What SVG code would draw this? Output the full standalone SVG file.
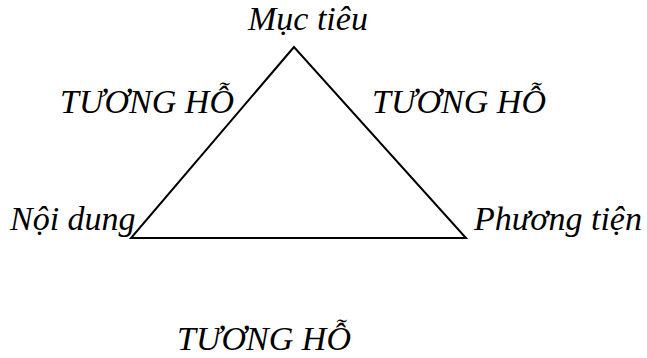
<svg xmlns="http://www.w3.org/2000/svg" width="647" height="358" viewBox="0 0 647 358">
<style>
.t{font-family:'Liberation Serif','Times New Roman',serif;font-style:italic;font-size:34px;fill:#000}
.e{fill:none;stroke:#000;stroke-width:2}
</style>
<rect width="647" height="358" fill="#fff"/>
<g id="connectors">
<path class="e" d="M294,47 L131,238 L466,238 Z"/>
</g>
<g id="muc-tieu"><text class="t" x="248" y="30">Mục tiêu</text></g>
<g id="noi-dung"><text class="t" x="10" y="230">Nội dung</text></g>
<g id="phuong-tien"><text class="t" x="474" y="230">Phương tiện</text></g>
<g id="tuong-ho-left"><text class="t" x="60" y="113">TƯƠNG HỖ</text></g>
<g id="tuong-ho-right"><text class="t" x="372" y="113">TƯƠNG HỖ</text></g>
<g id="tuong-ho-bottom"><text class="t" x="177" y="350">TƯƠNG HỖ</text></g>
</svg>
